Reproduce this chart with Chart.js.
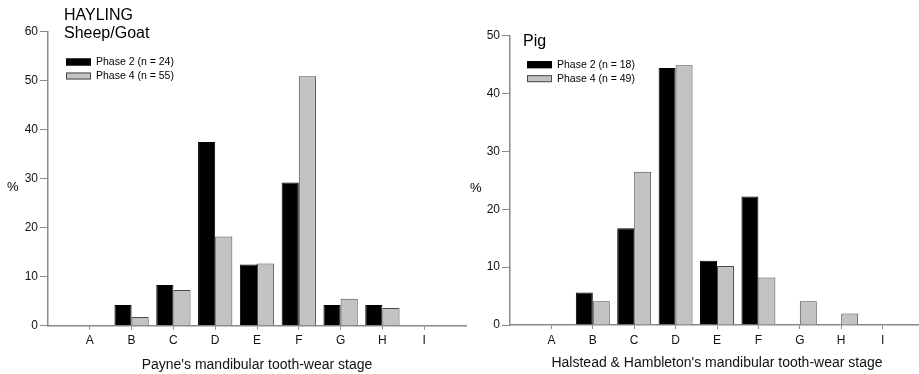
<!DOCTYPE html>
<html>
<head>
<meta charset="utf-8">
<style>
  html, body { margin: 0; padding: 0; background: #fff; overflow: hidden; }
  body { width: 919px; height: 374px; position: relative; }
  .panel { position: absolute; top: 0; width: 470px; height: 374px; }
</style>
</head>
<body>
<div class="panel" style="left:0"><canvas id="sheepChart"></canvas></div>
<div class="panel" style="left:459px"><canvas id="pigChart"></canvas></div>
<script src="https://cdn.jsdelivr.net/npm/chart.js"></script>
<script>
    // wear stages A..I, values are % of mandibles per phase
    const stages = ['A', 'B', 'C', 'D', 'E', 'F', 'G', 'H', 'I'];

    const sheepPhase2 = [0, 4.2, 8.3, 37.5, 12.5, 29.2, 4.2, 4.2, 0];
    const sheepPhase4 = [0, 1.8, 7.3, 18.2, 12.7, 50.9, 5.5, 3.6, 0];
    const sheepLabels = ['Phase 2 (n = 24)', 'Phase 4 (n = 55)'];
    const sheepTitle = ['HAYLING', 'Sheep/Goat'];
    const sheepAxisTitle = "Payne's mandibular tooth-wear stage";
    const sheepMax = 60;

    const pigPhase2 = [0, 5.6, 16.7, 44.4, 11.1, 22.2, 0, 0, 0];
    const pigPhase4 = [0, 4.1, 26.5, 44.9, 10.2, 8.2, 4.1, 2.0, 0];
    const pigLabels = ['Phase 2 (n = 18)', 'Phase 4 (n = 49)'];
    const pigTitle = ['Pig'];
    const pigAxisTitle = "Halstead & Hambleton's mandibular tooth-wear stage";
    const pigMax = 50;

    const FONT = '"Liberation Sans", Arial, sans-serif';
    const AXIS = '#8a8a8a';

    // titles, "%" and the little legend inside the plot
    const panelText = {
        id: 'panelText',
        afterDraw(chart, args, opts) {
            const ctx = chart.ctx;
            ctx.save();
            ctx.fillStyle = '#000';
            ctx.textAlign = 'left';
            ctx.textBaseline = 'alphabetic';
            ctx.font = '16px ' + FONT;
            opts.title.forEach((line, i) => ctx.fillText(line, opts.titleX, opts.titleY + i * 18));
            ctx.font = '13px ' + FONT;
            ctx.fillText('%', opts.percentX, opts.percentY);

            ctx.font = '10.5px ' + FONT;
            ctx.textBaseline = 'middle';
            chart.data.datasets.forEach((ds, i) => {
                const y = opts.legendY + i * 14;
                ctx.fillStyle = ds.backgroundColor;
                ctx.fillRect(opts.legendX, y - 3.5, 25, 7);
                ctx.strokeStyle = ds.borderColor;
                ctx.lineWidth = 1;
                ctx.strokeRect(opts.legendX + 0.5, y - 3, 24, 6);
                ctx.fillStyle = '#000';
                ctx.fillText(ds.label, opts.legendX + 30, y + 0.5);
            });
            ctx.restore();
        }
    };

    function makeChart(id, p2, p4, labels, yMax, axisTitle, pos) {
        // empty slots at both ends so the stages sit inside the axis like the original
        const cats = [''].concat(stages, ['']);
        const pad = arr => [null].concat(arr, [null]);
        const ctx = document.getElementById(id).getContext('2d');
        return new Chart(ctx, {
            type: 'bar',
            data: {
                labels: cats,
                datasets: [{
                    label: labels[0],
                    data: pad(p2),
                    backgroundColor: '#000000',
                    borderColor: '#000000',
                    borderWidth: 1
                }, {
                    label: labels[1],
                    data: pad(p4),
                    backgroundColor: '#c3c3c3',
                    borderColor: '#4a4a4a',
                    borderWidth: 1
                }]
            },
            plugins: [panelText],
            options: {
                responsive: true,
                maintainAspectRatio: false,
                animation: false,
                devicePixelRatio: 1,
                datasets: { bar: { categoryPercentage: 0.82, barPercentage: 1.0, borderSkipped: 'start' } },
                layout: { padding: { left: 0, right: pos.right, top: pos.top, bottom: pos.bottom } },
                plugins: {
                    legend: { display: false },
                    tooltip: { enabled: false },
                    panelText: pos.text
                },
                scales: {
                    x: {
                        offset: false,
                        afterFit: s => { s.height = pos.xHeight; },
                        grid: {
                            offset: false,
                            drawOnChartArea: false,
                            tickLength: 4,
                            tickColor: c => (c.index === 0 || c.index === cats.length - 1) ? 'rgba(0,0,0,0)' : AXIS
                        },
                        border: { color: AXIS, width: 1.5 },
                        ticks: { color: '#111', font: { family: FONT, size: 12 }, padding: 4, maxRotation: 0, autoSkip: false },
                        title: { display: true, text: axisTitle, color: '#111', font: { family: FONT, size: 14 }, padding: 0 }
                    },
                    y: {
                        min: 0,
                        max: yMax,
                        afterFit: s => { s.width = pos.yWidth; },
                        grid: { drawOnChartArea: false, tickLength: 8, tickColor: AXIS },
                        border: { color: AXIS, width: 1.5 },
                        ticks: { stepSize: 10, color: '#111', font: { family: FONT, size: 12 }, padding: 2 }
                    }
                }
            }
        });
    }

    makeChart('sheepChart', sheepPhase2, sheepPhase4, sheepLabels, sheepMax, sheepAxisTitle, {
        top: 31.7, bottom: 0.6, right: 2, xHeight: 47.7, yWidth: 48,
        text: { title: sheepTitle, titleX: 64, titleY: 19.5, percentX: 7, percentY: 191,
                legendX: 66, legendY: 62 }
    });

    makeChart('pigChart', pigPhase2, pigPhase4, pigLabels, pigMax, pigAxisTitle, {
        top: 35.7, bottom: 2.6, right: 5, xHeight: 46.4, yWidth: 51,
        text: { title: pigTitle, titleX: 64, titleY: 45.5, percentX: 11, percentY: 192,
                legendX: 68, legendY: 64.7 }
    });
</script>
</body>
</html>
